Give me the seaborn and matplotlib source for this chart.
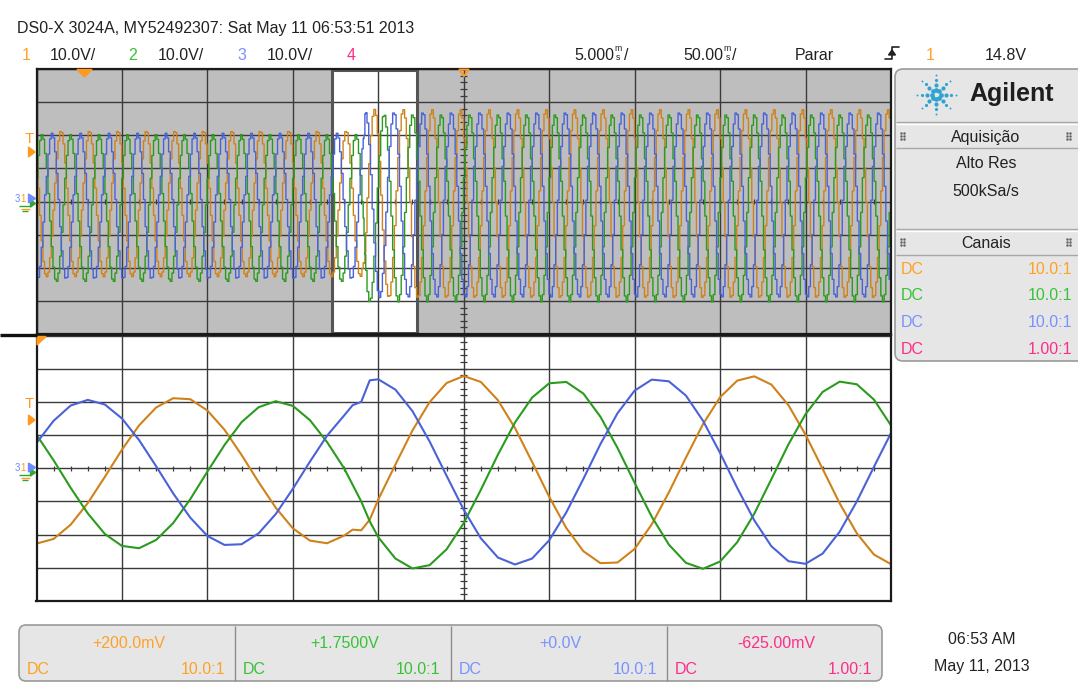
import numpy as np
import pandas as pd
import matplotlib
matplotlib.use("Agg")
import matplotlib.pyplot as plt
from matplotlib import font_manager
from matplotlib.patches import Rectangle, FancyBboxPatch, Polygon
import seaborn as sns

# ------------------------------------------------------------
# Values
# ------------------------------------------------------------
# zoomed window (lower graticule, 5 ms/div), ms from the zoom centre
t_ms = [-25, -24, -23, -22, -21, -20, -19, -18, -17, -16, -15, -14, -13,
        -12, -11, -10, -9, -8, -7, -6.5, -6, -5.5, -5, -4, -3, -2, -1, 0,
        1, 2, 3, 4, 5, 6, 7, 8, 9, 10, 11, 12, 13, 14, 15, 16, 17, 18, 19,
        20, 21, 22, 23, 24, 25]

# channel voltages (V) at those times
ch1_v = [-22.7, -21.3, -17.0, -10.5, -2.6, 5.6, 12.9, 18.3, 21.1, 20.8, 17.4,
         11.6, 4.0, -4.2, -11.9, -18.1, -21.8, -22.6, -20.3, -18.5, -18.7,
         -15.5, -9.4, 1.1, 11.4, 19.9, 25.7, 27.8, 26.0, 20.5, 12.1, 1.9,
         -8.6, -18.0, -25.0, -28.6, -28.4, -24.3, -16.9, -7.3, 3.2, 13.3,
         21.4, 26.4, 27.7, 25.2, 19.0, 10.1, -0.2, -10.6, -19.6, -26.0, -28.9]
ch2_v = [10.1, 2.4, -5.9, -13.6, -19.8, -23.4, -24.1, -21.6, -16.5, -9.3,
         -1.0, 7.0, 13.9, 18.4, 20.2, 18.8, 14.5, 7.9, 0.0, -5.0, -10.0,
         -16.0, -20.8, -27.2, -30.2, -29.2, -24.4, -16.5, -6.5, 4.1, 13.8,
         21.3, 25.6, 26.0, 22.5, 15.5, 6.1, -4.4, -14.6, -23.0, -28.5, -30.3,
         -28.1, -22.3, -13.7, -3.3, 7.2, 16.3, 23.0, 26.1, 25.3, 20.7, 12.9]
ch3_v = [7.6, 14.3, 18.9, 20.6, 19.2, 15.0, 8.5, 0.6, -7.6, -14.9, -20.4,
         -23.1, -22.9, -19.6, -13.8, -6.2, 2.0, 9.8, 15.9, 19.0, 20.0, 26.5,
         26.8, 23.7, 17.2, 8.1, -2.3, -12.5, -21.1, -26.9, -29.0, -27.2,
         -21.7, -13.3, -3.2, 7.3, 16.6, 23.4, 26.7, 26.2, 21.9, 14.3, 4.6,
         -5.9, -15.7, -23.5, -28.0, -28.8, -25.7, -19.1, -10.0, 0.4, 10.6]

line_period_ms = 16.67     # 60 Hz, read from peak spacing
zoom_center_ms = -52.1     # centre of the zoom box on the 50 ms/div timebase

# screen texts
header = "DS0-X 3024A, MY52492307: Sat May 11 06:53:51 2013"
ch_scales = ["10.0V/", "10.0V/", "10.0V/", ""]
ch_offsets = ["+200.0mV", "+1.7500V", "+0.0V", "-625.00mV"]
ch_probes = ["10.0:1", "10.0:1", "10.0:1", "1.00:1"]

trace_cols = ["#D0821A", "#2A9B1E", "#4A62D8"]
text_cols = ["#FFA126", "#38C238", "#7A92FF", "#FF2D8A"]
grid_col = "#3A3A3A"

# ------------------------------------------------------------
sns.set_style("white")
try:
    font_manager.findfont("Liberation Sans Narrow", fallback_to_default=False)
    scope_font, FS = "Liberation Sans Narrow", 13.0
except ValueError:
    scope_font, FS = "Liberation Sans", 11.5
plt.rcParams["font.family"] = [scope_font, "DejaVu Sans"]

W, H = 1078, 688
fig = plt.figure(figsize=(W / 100, H / 100), dpi=100)


def px_axes(x0, y0, x1, y1, **kw):
    return fig.add_axes([x0 / W, 1 - y1 / H, (x1 - x0) / W, (y1 - y0) / H], **kw)


def graticule(ax, half_t, face):
    ax.set_facecolor(face)
    ax.set_xlim(-half_t, half_t)
    ax.set_ylim(-40, 40)
    ax.set_xticks(np.linspace(-half_t, half_t, 11))
    ax.set_yticks(np.arange(-40, 41, 10))
    ax.tick_params(length=0, labelbottom=False, labelleft=False)
    ax.grid(True, color=grid_col, lw=1.0)
    ax.set_axisbelow(True)
    for s in ax.spines.values():
        s.set_color("#1A1A1A")
        s.set_linewidth(1.6)
    # small ticks on the centre lines
    tx = np.arange(-half_t, half_t + 1e-9, half_t / 25)
    ax.vlines(tx, -0.75, 0.75, color=grid_col, lw=0.9, zorder=0.6)
    ty = np.arange(-40, 40.1, 2)
    ax.hlines(ty, -half_t * 0.0077, half_t * 0.0077, color=grid_col, lw=0.9, zorder=0.6)
    ax.set_xlabel("")
    ax.set_ylabel("")


# main timebase built from the cycles read in the zoom window
t_b = np.array(t_ms)


def main_trace(v):
    v = np.array(v)
    pre = v[(t_b >= -25) & (t_b <= -9)]
    post = v[(t_b >= 9) & (t_b <= 25)]
    step = line_period_ms / len(pre)
    n_left, n_right = 11, 17
    t_left = -25 - line_period_ms * n_left + step * np.arange(len(pre) * n_left)
    t_right = 25 + step * (1 + np.arange(len(post) * n_right))
    tt = np.concatenate([t_left, t_b, t_right]) + zoom_center_ms
    vv = np.concatenate([np.tile(pre, n_left), v, np.tile(post, n_right)])
    return tt, vv


ax_main = px_axes(36.5, 69, 891, 334)
graticule(ax_main, 250, "#BEBEBE")
ax_main.add_patch(Rectangle((zoom_center_ms - 25, -39.7), 50, 79.4,
                            facecolor="white", edgecolor="none", zorder=0.2))
ax_main.add_patch(Rectangle((zoom_center_ms - 25, -39.7), 50, 79.4,
                            fill=False, edgecolor="#555555", lw=2.2, zorder=1.5))
for vals, col in zip([ch1_v, ch2_v, ch3_v], trace_cols):
    tt, vv = main_trace(vals)
    sns.lineplot(x=tt, y=vv, ax=ax_main, color=col, lw=1.0, sort=False,
                 estimator=None, drawstyle="steps-mid", zorder=2)
ax_main.set_xlim(-250, 250)
ax_main.set_ylim(-40, 40)

ax_zoom = px_axes(36.5, 335.5, 891, 601)
graticule(ax_zoom, 25, "white")
for vals, col in zip([ch1_v, ch2_v, ch3_v], trace_cols):
    sns.lineplot(x=t_ms, y=vals, ax=ax_zoom, color=col, lw=1.5, sort=False,
                 estimator=None, zorder=2)
ax_zoom.set_xlim(-25, 25)
ax_zoom.set_ylim(-40, 40)

# ------------------------------------------------------------
# screen furniture, in pixel coordinates
# ------------------------------------------------------------
ov = fig.add_axes([0, 0, 1, 1], zorder=5)
ov.set_xlim(0, W)
ov.set_ylim(H, 0)
ov.axis("off")
ov.patch.set_visible(False)
ov.hlines(335, 0, 37, color="#111111", lw=2.4)

txt = dict(fontsize=FS, color="#222222", va="baseline")
ov.text(17, 33, header, **txt)
for x, s, c in [(22, "1", 0), (128, "2", 1), (237, "3", 2), (347, "4", 3)]:
    ov.text(x, 60, s, fontsize=FS, color=text_cols[c], va="baseline")
for x, s in zip([50, 158, 267], ch_scales[:3]):
    ov.text(x, 60, s, **txt)
for xr, xs, num in [(614.5, 618.5, "5.000"), (723.0, 727.5, "50.00")]:
    ov.text(xr, 60, num, ha="right", **txt)
    ov.text(xs, 51, "m", ha="center", fontsize=FS * 0.55, color="#222222", va="baseline")
    ov.text(xs, 59.5, "s", ha="center", fontsize=FS * 0.55, color="#222222", va="baseline")
    ov.text(xs + 5, 60, "/", **txt)
ov.text(795, 60, "Parar", **txt)
ov.plot([885, 892, 892, 899], [59, 59, 47, 47], color="#222222", lw=1.2)
ov.add_patch(Polygon([[888.5, 55], [895.5, 55], [892, 50]], closed=True, color="#222222"))
ov.text(926, 60, "1", fontsize=FS, color=text_cols[0], va="baseline")
ov.text(985, 60, "14.8V", **txt)

# trigger / reference markers
ov.add_patch(Polygon([[77, 69.5], [92, 69.5], [84.5, 77]], closed=True, color="#FF9A1F"))
ov.add_patch(Polygon([[459, 69.5], [469, 69.5], [464, 76]], closed=True, fill=False,
                     edgecolor="#FF9A1F", lw=1.4))
ov.add_patch(Polygon([[37, 336.5], [46, 336.5], [37, 345]], closed=True, color="#FF9A1F"))
for y_t, y_trig, y_gnd in [(143, 152, 199), (408.5, 420, 468)]:
    ov.text(29, y_t, "T", ha="center", fontsize=FS * 0.95, color="#FF9A1F", va="baseline")
    ov.add_patch(Polygon([[28.5, y_trig - 5], [28.5, y_trig + 5], [35, y_trig]],
                         closed=True, color="#FF9A1F"))
    ov.add_patch(Polygon([[30.5, y_gnd + 1], [30.5, y_gnd + 8], [35.5, y_gnd + 4.5]],
                         closed=True, color="#2FA82F"))
    ov.add_patch(Polygon([[28.5, y_gnd - 5], [28.5, y_gnd + 4], [35.5, y_gnd - 0.5]],
                         closed=True, color="#6E8CFF"))
    ov.text(17.5, y_gnd + 3, "3", ha="center", fontsize=FS * 0.6, color="#6E8CFF", va="baseline")
    ov.text(23, y_gnd + 3, "1", ha="center", fontsize=FS * 0.6, color="#FF9A1F", va="baseline")
    for k, w in enumerate([6, 4.5, 3]):
        ov.hlines(y_gnd + 7 + 2.6 * k, 25 - w, 25 + w,
                  color=["#2FA82F", "#FF9A1F", "#2FA82F"][k], lw=1.0)

# right-hand side panel
ov.add_patch(FancyBboxPatch((895, 69), 200, 292, boxstyle="round,pad=0,rounding_size=8",
                            fc="#E6E6E6", ec="#9A9A9A", lw=1.2))
for y, c in [(121.5, "#A8A8A8"), (123.5, "#FFFFFF"), (147.5, "#A8A8A8"),
             (228.5, "#A8A8A8"), (230.5, "#FFFFFF"), (254.5, "#A8A8A8")]:
    ov.hlines(y, 895.6, W, color=c, lw=1.0)
spark_r = [4.5, 9.5, 14.5, 19.5]
spark_ms = [3.4, 3.0, 2.3, 1.4]
for k in range(8):
    a = np.pi / 4 * k
    for r, m in zip(spark_r, spark_ms):
        ov.plot(936 + r * np.cos(a), 94.5 - r * np.sin(a), "o", ms=m, color="#2FA4D0",
                mec="none")
ov.text(969, 101.5, "Agilent", fontsize=18, fontweight="bold", family="Liberation Sans",
        color="#1E1E1E", va="baseline")
for y in [135.5, 241.5]:
    for x in [902.5, 1068.5]:
        ov.plot([x - 1.5, x + 1.5] * 3, [y - 3, y - 3, y, y, y + 3, y + 3], ".",
                ms=1.6, color="#666666")
ov.text(986, 142, "Aquisição", ha="center", **txt)
ov.text(986, 168.5, "Alto Res", ha="center", **txt)
ov.text(986, 195.5, "500kSa/s", ha="center", **txt)
ov.text(986, 248, "Canais", ha="center", **txt)
for i, y in enumerate([273.5, 300.5, 327, 353.5]):
    ov.text(900.5, y, "DC", fontsize=FS, color=text_cols[i], va="baseline")
    ov.text(1072, y, ch_probes[i], ha="right", fontsize=FS, color=text_cols[i], va="baseline")

# bottom status bar
ov.add_patch(FancyBboxPatch((19, 625), 863, 56, boxstyle="round,pad=0,rounding_size=7",
                            fc="#E6E6E6", ec="#9A9A9A", lw=1.2))
ov.vlines([235, 450.5, 667], 625.5, 680.5, color="#8C8C8C", lw=1.0)
cells = [(19, 235), (235, 450.5), (450.5, 667), (667, 882)]
for i, (x0, x1) in enumerate(cells):
    ov.text((x0 + x1) / 2 + 2, 647.5, ch_offsets[i], ha="center", fontsize=FS,
            color=text_cols[i], va="baseline")
    ov.text(x0 + 8, 673.5, "DC", fontsize=FS, color=text_cols[i], va="baseline")
    ov.text(x1 - 10, 673.5, ch_probes[i], ha="right", fontsize=FS,
            color=text_cols[i], va="baseline")
ov.text(982, 644, "06:53 AM", ha="center", **txt)
ov.text(982, 671, "May 11, 2013", ha="center", **txt)

fig.savefig("out.png", dpi=100, facecolor="white")
